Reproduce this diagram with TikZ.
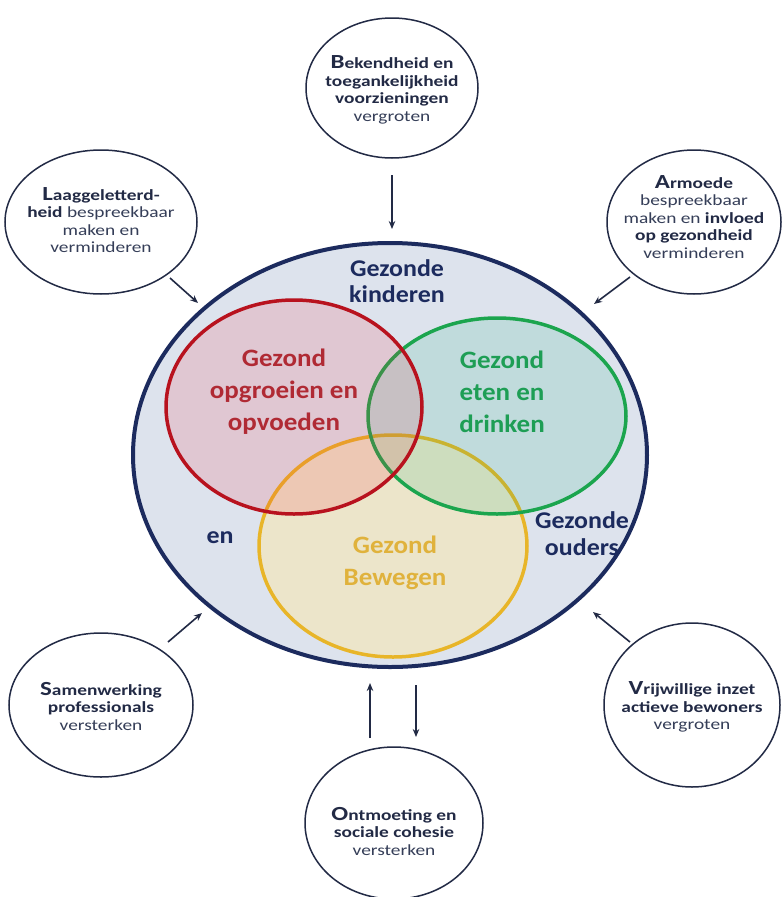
\documentclass[tikz,border=0pt]{standalone}
\usepackage{fontspec}
\setmainfont{Carlito}
\newfontfamily\satfont[FakeStretch=1.25]{Carlito}
\newfontfamily\midfont[FakeStretch=1.08]{Carlito}
\usetikzlibrary{shapes.geometric,arrows.meta}
\definecolor{navy}{HTML}{1C2B5E}
\definecolor{ink}{HTML}{222A45}
\definecolor{inkl}{HTML}{353E58}
\definecolor{bgfill}{HTML}{DDE3ED}
\definecolor{redc}{HTML}{B8121E}
\definecolor{greenc}{HTML}{1BA54E}
\definecolor{yellowc}{HTML}{E8B528}
\definecolor{redf}{HTML}{F52838}
\definecolor{greenf}{HTML}{00AA6E}
\definecolor{yellowf}{HTML}{FFE9A0}
\definecolor{redt}{HTML}{B02A34}
\definecolor{greent}{HTML}{1E9E55}
\definecolor{yellowt}{HTML}{E0B23C}
\newcommand\initl[1]{{\fontsize{20}{17}\selectfont\bfseries\color{ink}#1}}
\newcommand\sbold[1]{{\bfseries\color{ink}#1}}
\tikzset{
  sat/.style={ellipse, draw=ink, line width=1.5pt, fill=white, inner sep=0pt},
  sattext/.style={align=center, inner sep=0pt, text=inkl, font=\satfont\fontsize{15.5}{17.5}\selectfont},
  venn/.style={ellipse, line width=3.5pt, inner sep=0pt},
  venntext/.style={align=center, inner sep=0pt, font=\midfont\fontsize{25}{32}\selectfont\bfseries},
  navytext/.style={align=center, inner sep=0pt, text=navy, font=\midfont\fontsize{24}{26}\selectfont\bfseries},
  arr/.style={-{Stealth[length=8pt,width=6.5pt]}, draw=ink, line width=1.6pt},
}
\begin{document}
\begin{tikzpicture}[x=1pt,y=-1pt]
\fill[white] (0,0) rectangle (782,897);
\useasboundingbox (0,0) rectangle (782,897);

% central ellipse and Venn circles
\node[ellipse, draw=navy, line width=4pt, fill=bgfill, inner sep=0pt,
      minimum width=514pt, minimum height=424pt] (big) at (390,455) {};
\node[venn, draw=yellowc, fill=yellowf, fill opacity=0.45, draw opacity=1,
      minimum width=268pt, minimum height=222pt] (yel) at (393,546) {};
\node[venn, draw=greenc, fill=greenf, fill opacity=0.13, draw opacity=1,
      minimum width=258pt, minimum height=196pt] (grn) at (497,416) {};
\node[venn, draw=redc, fill=redf, fill opacity=0.15, draw opacity=1,
      minimum width=256pt, minimum height=214pt] (red) at (294,407) {};

\node[navytext] (kind) at (397,281) {Gezonde\\kinderen};
\node[venntext, text=redt] (tred) at (284,392) {Gezond\\opgroeien en\\opvoeden};
\node[venntext, text=greent] (tgrn) at (502,392) {Gezond\\eten en\\drinken};
\node[venntext, text=yellowt] (tyel) at (395,563) {Gezond\\Bewegen};
\node[navytext] (en) at (220,538) {en};
\node[navytext, font=\midfont\fontsize{24}{27}\selectfont\bfseries] (oud) at (582,534) {Gezonde\\ouders};

% satellites
\node[sat, minimum width=172pt, minimum height=140pt] (top) at (392,88) {};
\node[sattext] (ttop) at (392,90) {\initl{B}\sbold{ekendheid en}\\\sbold{toegankelijkheid}\\\sbold{voorzieningen}\\vergroten};

\node[sat, minimum width=192pt, minimum height=144pt] (tl) at (101,222) {};
\node[sattext] (ttl) at (101,220) {\initl{L}\sbold{aaggeletterd-}\\\sbold{heid} bespreekbaar\\maken en\\verminderen};

\node[sat, minimum width=174pt, minimum height=144pt] (tr) at (694,222) {};
\node[sattext] (ttr) at (694,217) {\initl{A}\sbold{rmoede}\\bespreekbaar\\maken en \sbold{invloed}\\\sbold{op gezondheid}\\verminderen};

\node[sat, minimum width=184pt, minimum height=144pt] (bl) at (101,705) {};
\node[sattext] (tbl) at (101,706) {\initl{S}\sbold{amenwerking}\\\sbold{professionals}\\versterken};

\node[sat, minimum width=176pt, minimum height=164pt] (br) at (692,705) {};
\node[sattext] (tbr) at (692,707) {\initl{V}\sbold{rijwillige inzet}\\\sbold{actieve bewoners}\\vergroten};

\node[sat, minimum width=178pt, minimum height=152pt] (bot) at (394,823) {};
\node[sattext] (tbot) at (394,831) {\initl{O}\sbold{ntmoeting en}\\\sbold{sociale cohesie}\\versterken};

% arrow end points
\coordinate (a1s) at (392,175); \coordinate (a1e) at (392,229);
\coordinate (a2s) at (170,278); \coordinate (a2e) at (198,303);
\coordinate (a3s) at (630,277); \coordinate (a3e) at (594,304);
\coordinate (a4s) at (168,642); \coordinate (a4e) at (202,613);
\coordinate (a5s) at (630,642); \coordinate (a5e) at (593,612);
\coordinate (a6s) at (370,738); \coordinate (a6e) at (370,683);
\coordinate (a7s) at (416,685); \coordinate (a7e) at (416,737);

\draw[arr] (a1s) -- (a1e);
\draw[arr] (a2s) -- (a2e);
\draw[arr] (a3s) -- (a3e);
\draw[arr] (a4s) -- (a4e);
\draw[arr] (a5s) -- (a5e);
\draw[arr] (a6s) -- (a6e);
\draw[arr] (a7s) -- (a7e);
\end{tikzpicture}
\end{document}
